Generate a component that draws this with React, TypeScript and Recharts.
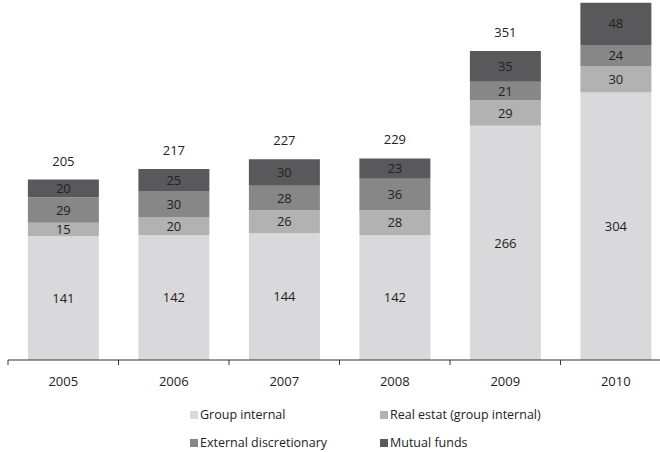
import { BarChart, Bar, XAxis, YAxis, LabelList } from 'recharts';

const YEARS = ['2005', '2006', '2007', '2008', '2009', '2010'];
const GROUP_INTERNAL = [141, 142, 144, 142, 266, 304];
const REAL_ESTATE = [15, 20, 26, 28, 29, 30];
const EXTERNAL = [29, 30, 28, 36, 21, 24];
const MUTUAL_FUNDS = [20, 25, 30, 23, 35, 48];
const TOTALS = [205, 217, 227, 229, 351, 406];

const SERIES = [
  { key: 'group', name: 'Group internal', color: '#d9d9db' },
  { key: 'realEstate', name: 'Real estat (group internal)', color: '#b2b2b2' },
  { key: 'external', name: 'External discretionary', color: '#878787' },
  { key: 'mutual', name: 'Mutual funds', color: '#59595b' },
];

const data = YEARS.map((year, i) => ({
  year,
  group: GROUP_INTERNAL[i],
  realEstate: REAL_ESTATE[i],
  external: EXTERNAL[i],
  mutual: MUTUAL_FUNDS[i],
  total: TOTALS[i],
}));

const FONT = '"Open Sans", sans-serif';
const CHART_W = 680;
const MARGIN = { top: 0, right: 9, bottom: 52, left: 8 };
const BAND = (CHART_W - MARGIN.left - MARGIN.right) / YEARS.length;

function YearTick(props: any) {
  const { x, y, payload } = props;
  const left = x - BAND / 2;
  return (
    <g>
      <line x1={left} y1={y} x2={left} y2={y + 5} stroke="#333" strokeWidth={1} />
      <text x={x} y={y + 26} textAnchor="middle" fill="#222" fontSize={13} fontFamily={FONT}>
        {payload.value}
      </text>
    </g>
  );
}

// total above the stack; the 2010 one sits above the visible area in the original
function TotalLabel(props: any) {
  const { x, y, width, value } = props;
  const ty = y - 14;
  if (ty < 14) return null;
  return (
    <text x={x + width / 2} y={ty} textAnchor="middle" fill="#222" fontSize={13} fontFamily={FONT}>
      {value}
    </text>
  );
}

function LegendBox() {
  const item = (s: (typeof SERIES)[number]) => (
    <div key={s.key} style={{ display: 'flex', alignItems: 'center', height: 16 }}>
      <span style={{ width: 8, height: 8, background: s.color, marginRight: 2, display: 'inline-block' }} />
      <span>{s.name}</span>
    </div>
  );
  return (
    <div
      style={{
        position: 'absolute',
        left: 190,
        top: 407,
        display: 'grid',
        gridTemplateColumns: '190px 200px',
        rowGap: 12,
        fontFamily: FONT,
        fontSize: 12.5,
        lineHeight: '16px',
        color: '#222',
      }}
    >
      {SERIES.map(item)}
    </div>
  );
}

export default function App() {
  return (
    <div style={{ position: 'absolute', left: 0, top: 0, width: 660, height: 452, overflow: 'hidden', background: '#fff' }}>
      <BarChart width={CHART_W} height={452} data={data} margin={MARGIN} barCategoryGap="18%">
        <XAxis
          dataKey="year"
          axisLine={{ stroke: '#333' }}
          tickLine={false}
          tickSize={0}
          tickMargin={0}
          height={40}
          interval={0}
          tick={<YearTick />}
        />
        <YAxis hide domain={[0, 409]} />
        {SERIES.map((s, idx) => (
          <Bar key={s.key} dataKey={s.key} name={s.name} stackId="a" fill={s.color} isAnimationActive={false}>
            <LabelList dataKey={s.key} position="center" fill="#222" fontSize={13} fontFamily={FONT} />
            {idx === SERIES.length - 1 && <LabelList dataKey="total" content={<TotalLabel />} />}
          </Bar>
        ))}
      </BarChart>
      <LegendBox />
    </div>
  );
}
